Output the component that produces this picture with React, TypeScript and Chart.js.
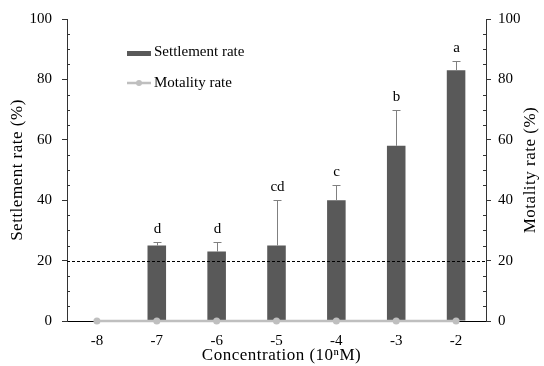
import React, { useEffect, useRef } from 'react';
import { Chart, registerables } from 'chart.js';

Chart.register(...registerables);

const categories = ['-8', '-7', '-6', '-5', '-4', '-3', '-2'];
const settlement = [0, 25, 23, 25, 40, 58, 83];
const settlementErr = [0, 1, 3, 15, 5, 12, 3];
const mortality = [0, 0, 0, 0, 0, 0, 0];
const letters = ['', 'd', 'd', 'cd', 'c', 'b', 'a'];
const thresholdValue = 20;
const yMin = 0;
const yMax = 100;
const yStep = 20;
const yMinorStep = 5;

const FONT = "'Liberation Serif', 'Times New Roman', serif";
const BAR_COLOR = '#595959';
const LINE_COLOR = '#bfbfbf';
const AXIS_COLOR = '#333333';

const overlay = {
  id: 'overlay',
  afterDatasetsDraw(chart: any) {
    const { ctx, chartArea: ca, scales } = chart;
    const x = scales.x;
    const y = scales.y;
    ctx.save();
    // dashed threshold line
    ctx.strokeStyle = '#000';
    ctx.lineWidth = 1;
    ctx.setLineDash([3, 2]);
    const ty = Math.round(y.getPixelForValue(thresholdValue)) + 0.5;
    ctx.beginPath();
    ctx.moveTo(ca.left, ty);
    ctx.lineTo(ca.right, ty);
    ctx.stroke();
    ctx.setLineDash([]);

    // error bars + letters
    settlement.forEach((v, i) => {
      const px = Math.round(x.getPixelForValue(i)) + 0.5;
      const err = settlementErr[i];
      const topV = v + err;
      const top = y.getPixelForValue(topV);
      if (err > 0) {
        const base = y.getPixelForValue(v);
        ctx.strokeStyle = '#808080';
        ctx.lineWidth = 1;
        ctx.beginPath();
        ctx.moveTo(px, base);
        ctx.lineTo(px, Math.round(top) + 0.5);
        ctx.moveTo(px - 4, Math.round(top) + 0.5);
        ctx.lineTo(px + 4, Math.round(top) + 0.5);
        ctx.stroke();
      }
      if (letters[i]) {
        ctx.fillStyle = '#000';
        ctx.font = `15px ${FONT}`;
        ctx.textAlign = 'center';
        ctx.textBaseline = 'alphabetic';
        ctx.fillText(letters[i], px, top - 9);
      }
    });

    // minor ticks (inward)
    ctx.strokeStyle = AXIS_COLOR;
    ctx.lineWidth = 1;
    for (let v = yMin; v <= yMax; v += yMinorStep) {
      if (v % yStep === 0) continue;
      const py = Math.round(y.getPixelForValue(v)) + 0.5;
      ctx.beginPath();
      ctx.moveTo(ca.left, py);
      ctx.lineTo(ca.left + 3, py);
      ctx.moveTo(ca.right, py);
      ctx.lineTo(ca.right - 3, py);
      ctx.stroke();
    }

    // legend
    ctx.fillStyle = BAR_COLOR;
    ctx.fillRect(127, 51, 24, 5);
    ctx.strokeStyle = LINE_COLOR;
    ctx.lineWidth = 2.5;
    ctx.beginPath();
    ctx.moveTo(127, 83);
    ctx.lineTo(151, 83);
    ctx.stroke();
    ctx.fillStyle = LINE_COLOR;
    ctx.beginPath();
    ctx.arc(139, 83, 3, 0, Math.PI * 2);
    ctx.fill();
    ctx.fillStyle = '#000';
    ctx.font = `15px ${FONT}`;
    ctx.textAlign = 'left';
    ctx.textBaseline = 'middle';
    ctx.fillText('Settlement rate', 154, 52);
    ctx.fillText('Motality rate', 154, 83);

    // axis titles
    ctx.font = `17px ${FONT}`;
    (ctx as any).letterSpacing = '0.5px';
    ctx.textAlign = 'center';
    ctx.textBaseline = 'middle';
    const midY = (ca.top + ca.bottom) / 2;
    ctx.save();
    ctx.translate(18, midY);
    ctx.rotate(-Math.PI / 2);
    ctx.fillText('Settlement rate (%)', 0, 0);
    ctx.restore();
    ctx.save();
    ctx.translate(531, midY);
    ctx.rotate(-Math.PI / 2);
    ctx.fillText('Motality rate (%)', 0, 0);
    ctx.restore();
    ctx.fillText('Concentration (10\u207FM)', (ca.left + ca.right) / 2 + 5, 356);
    ctx.restore();
  },
};

export default function App() {
  const ref = useRef<HTMLCanvasElement>(null);
  useEffect(() => {
    if (!ref.current) return;
    const tickFont = { family: FONT, size: 15 };
    const chart = new Chart(ref.current, {
      type: 'bar',
      data: {
        labels: categories,
        datasets: [
          {
            type: 'line',
            label: 'Motality rate',
            data: mortality,
            borderColor: LINE_COLOR,
            backgroundColor: LINE_COLOR,
            borderWidth: 2.5,
            pointRadius: 3.5,
            pointBackgroundColor: LINE_COLOR,
            pointBorderWidth: 0,
            yAxisID: 'y1',
            order: 0,
            clip: false,
          } as any,
          {
            type: 'bar',
            label: 'Settlement rate',
            data: settlement,
            backgroundColor: BAR_COLOR,
            borderWidth: 0,
            barPercentage: 0.62,
            categoryPercentage: 0.5,
            yAxisID: 'y',
            order: 1,
          },
        ],
      },
      options: {
        responsive: false,
        animation: false,
        layout: { padding: { top: 16, left: 0, right: 0, bottom: 0 } },
        plugins: { legend: { display: false }, tooltip: { enabled: false } },
        scales: {
          x: {
            type: 'category',
            offset: true,
            grid: { display: false, drawTicks: false },
            border: { display: true, color: '#000', width: 1 },
            ticks: { color: '#000', font: tickFont, padding: 11 },
            afterFit(s: any) {
              s.height = 45;
            },
          },
          y: {
            position: 'left',
            min: yMin,
            max: yMax,
            ticks: { stepSize: yStep, color: '#000', font: tickFont, padding: 10 },
            grid: { drawOnChartArea: false, drawTicks: true, tickLength: 5, color: AXIS_COLOR },
            border: { color: AXIS_COLOR },
            afterFit(s: any) {
              s.width = 67;
            },
          },
          y1: {
            position: 'right',
            min: yMin,
            max: yMax,
            ticks: { stepSize: yStep, color: '#000', font: tickFont, padding: 7 },
            grid: { drawOnChartArea: false, drawTicks: true, tickLength: 5, color: AXIS_COLOR },
            border: { color: AXIS_COLOR },
            afterFit(s: any) {
              s.width = 58;
            },
          },
        },
      },
      plugins: [overlay],
    } as any);
    return () => chart.destroy();
  }, []);
  return (
    <div style={{ position: 'absolute', left: 0, top: 0, width: 544, height: 366, background: '#fff' }}>
      <canvas ref={ref} width={544} height={366} style={{ display: 'block' }} />
    </div>
  );
}
